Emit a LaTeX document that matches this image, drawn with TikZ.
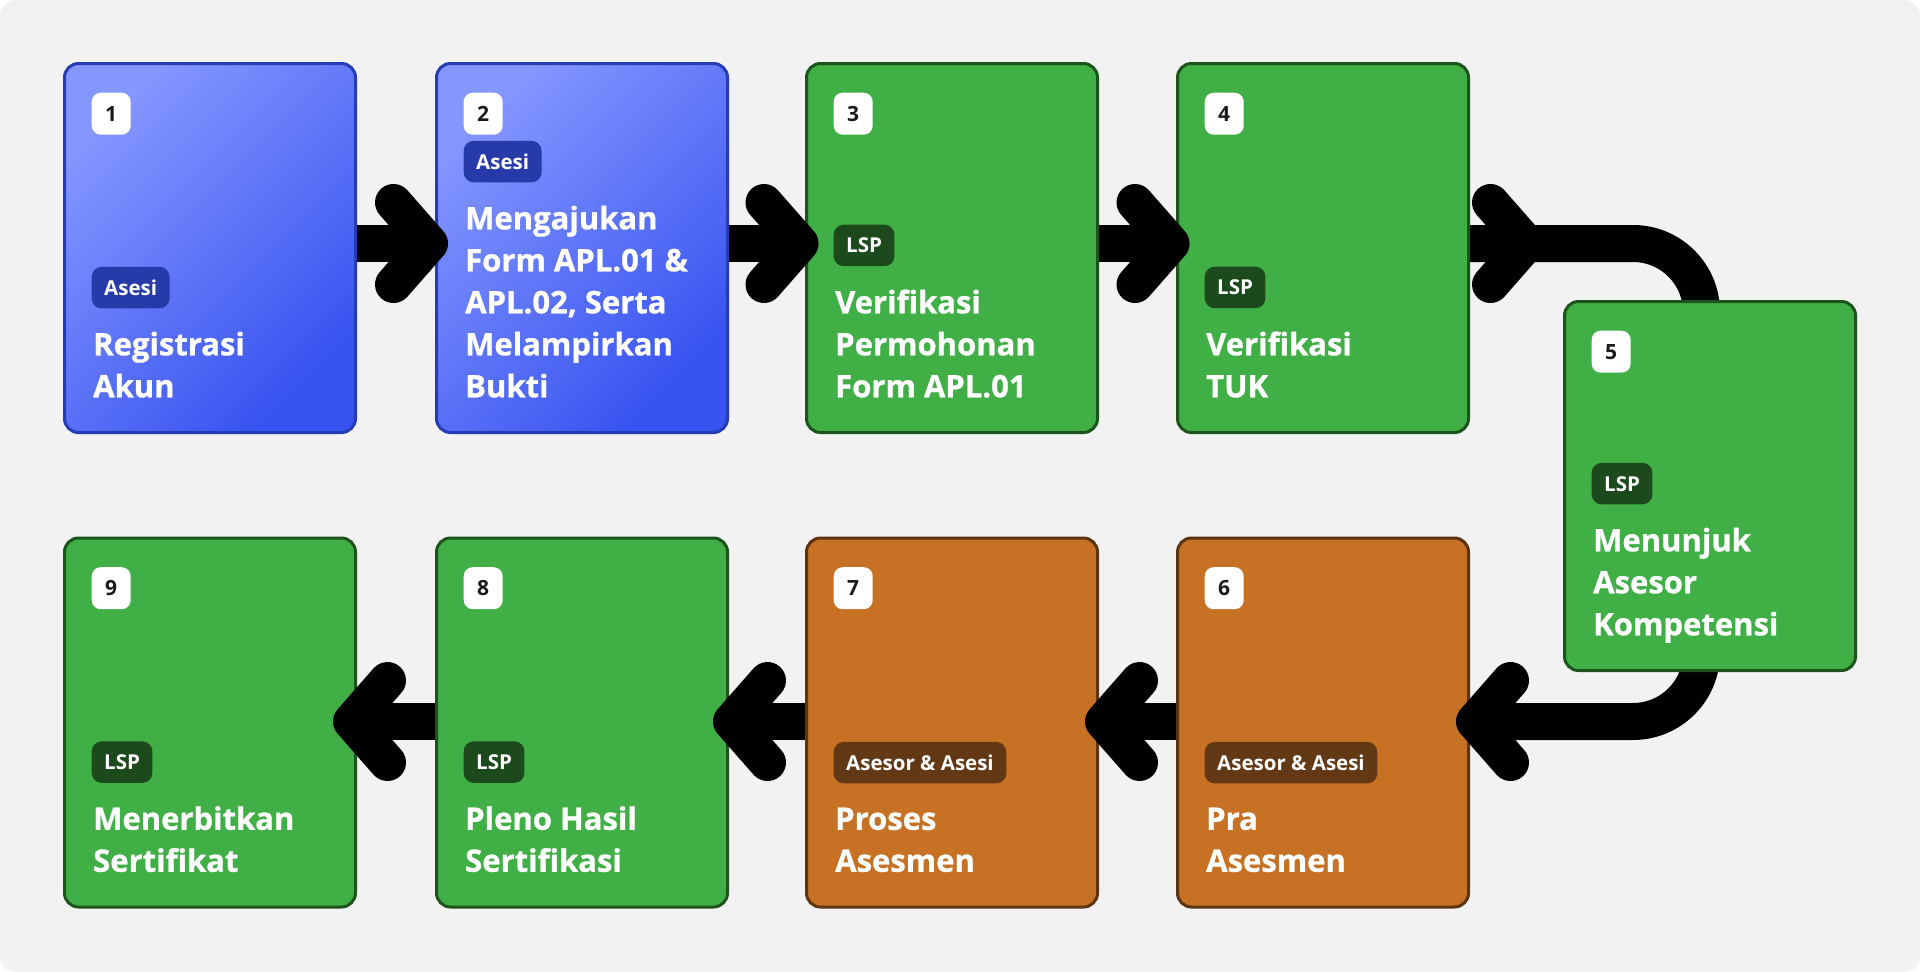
\documentclass[tikz,border=0pt]{standalone}
\usepackage{fontspec}
\setmainfont{Open Sans}
\newfontfamily\heavyfont{Open Sans}[BoldFeatures={FakeBold=0.9}]
\usetikzlibrary{calc,positioning}

\pgfdeclarelayer{back}
\pgfsetlayers{back,main}

\definecolor{pagebg}{HTML}{F2F2F2}
\definecolor{cardgreen}{RGB}{63,175,70}
\definecolor{linegreen}{RGB}{28,84,28}
\definecolor{taggreen}{RGB}{29,74,29}
\definecolor{cardorange}{RGB}{199,113,36}
\definecolor{lineorange}{RGB}{92,52,16}
\definecolor{tagorange}{RGB}{99,56,21}
\definecolor{bluelt}{RGB}{132,150,255}
\definecolor{bluedk}{RGB}{55,83,240}
\definecolor{lineblue}{RGB}{38,60,180}
\definecolor{tagblue}{RGB}{38,58,170}
\definecolor{numtext}{HTML}{1A1A1A}

% strut for the step titles
\newcommand{\ts}{\rule[-9pt]{0pt}{32pt}}

\tikzset{
  stepcard/.style={rectangle, rounded corners=14pt, line width=3pt, minimum width=291pt, minimum height=369pt, inner sep=0pt},
  greencard/.style={stepcard, fill=cardgreen, draw=linegreen},
  orangecard/.style={stepcard, fill=cardorange, draw=lineorange},
  bluecard/.style={stepcard, left color=bluelt, right color=bluedk, shading angle=45, draw=lineblue},
  numtag/.style={anchor=north west, fill=white, rounded corners=9pt, minimum width=39pt, minimum height=42pt, inner sep=0pt, text=numtext, font=\bfseries\fontsize{21}{24}\selectfont, text height=15pt, text depth=0pt},
  roletag/.style={anchor=south west, rounded corners=10pt, inner xsep=12.5pt, inner ysep=13.25pt, text height=15pt, text depth=0pt, text=white, font=\bfseries\fontsize{20.5}{24}\selectfont},
  steptitle/.style={anchor=south west, align=left, inner sep=0pt, text=white, font=\heavyfont\bfseries\fontsize{31}{42}\selectfont},
  band/.style={line width=37pt},
  chev/.style={line width=37pt, line cap=round, line join=round}
}

\begin{document}
\begin{tikzpicture}[x=1pt, y=-1pt]
\useasboundingbox (0,0) rectangle (1920,972);

% arrow heads
\coordinate (h12) at (429.5,243.5);
\coordinate (h23) at (800,243.5);
\coordinate (h34) at (1171,243.5);
\coordinate (h45) at (1526.5,243.5);
\coordinate (h56) at (1474.5,721.5);
\coordinate (h67) at (1103.5,721.5);
\coordinate (h78) at (731.5,721.5);
\coordinate (h89) at (351.5,721.5);

% row 1
\node[bluecard] (s1) at (210,248) {};
\node[numtag] (n1) at ($(s1.north west)+(28.5,30.5)$) {1};
\node[steptitle] (t1) at ($(s1.south west)+(30,-27.5)$) {\ts Registrasi\\Akun\ts};
\node[roletag, fill=tagblue] (w1) at ($(t1.north west)+(-1.5,-23)$) {Asesi};

\node[bluecard] (s2) at (582,248) {};
\node[numtag] (n2) at ($(s2.north west)+(28.5,30.5)$) {2};
\node[steptitle] (t2) at ($(s2.south west)+(30,-27.5)$) {\ts Mengajukan\\Form APL.01 \&\\APL.02, Serta\\Melampirkan\\Bukti\ts};
\node[roletag, fill=tagblue] (w2) at ($(t2.north west)+(-1.5,-23)$) {Asesi};

\node[greencard] (s3) at (952,248) {};
\node[numtag] (n3) at ($(s3.north west)+(28.5,30.5)$) {3};
\node[steptitle] (t3) at ($(s3.south west)+(30,-27.5)$) {\ts Verifikasi\\Permohonan\\Form APL.01\ts};
\node[roletag, fill=taggreen] (w3) at ($(t3.north west)+(-1.5,-23)$) {LSP};

\node[greencard] (s4) at (1323,248) {};
\node[numtag] (n4) at ($(s4.north west)+(28.5,30.5)$) {4};
\node[steptitle] (t4) at ($(s4.south west)+(30,-27.5)$) {\ts Verifikasi\\TUK\ts};
\node[roletag, fill=taggreen] (w4) at ($(t4.north west)+(-1.5,-23)$) {LSP};

% turn
\node[greencard] (s5) at (1710,486) {};
\node[numtag] (n5) at ($(s5.north west)+(28.5,30.5)$) {5};
\node[steptitle] (t5) at ($(s5.south west)+(30,-27.5)$) {\ts Menunjuk\\Asesor\\Kompetensi\ts};
\node[roletag, fill=taggreen] (w5) at ($(t5.north west)+(-1.5,-23)$) {LSP};

% row 2
\node[orangecard] (s6) at (1323,722.5) {};
\node[numtag] (n6) at ($(s6.north west)+(28.5,30.5)$) {6};
\node[steptitle] (t6) at ($(s6.south west)+(30,-27.5)$) {\ts Pra\\Asesmen\ts};
\node[roletag, fill=tagorange] (w6) at ($(t6.north west)+(-1.5,-23)$) {Asesor \& Asesi};

\node[orangecard] (s7) at (952,722.5) {};
\node[numtag] (n7) at ($(s7.north west)+(28.5,30.5)$) {7};
\node[steptitle] (t7) at ($(s7.south west)+(30,-27.5)$) {\ts Proses\\Asesmen\ts};
\node[roletag, fill=tagorange] (w7) at ($(t7.north west)+(-1.5,-23)$) {Asesor \& Asesi};

\node[greencard] (s8) at (582,722.5) {};
\node[numtag] (n8) at ($(s8.north west)+(28.5,30.5)$) {8};
\node[steptitle] (t8) at ($(s8.south west)+(30,-27.5)$) {\ts Pleno Hasil\\Sertifikasi\ts};
\node[roletag, fill=taggreen] (w8) at ($(t8.north west)+(-1.5,-23)$) {LSP};

\node[greencard] (s9) at (210,722.5) {};
\node[numtag] (n9) at ($(s9.north west)+(28.5,30.5)$) {9};
\node[steptitle] (t9) at ($(s9.south west)+(30,-27.5)$) {\ts Menerbitkan\\Sertifikat\ts};
\node[roletag, fill=taggreen] (w9) at ($(t9.north west)+(-1.5,-23)$) {LSP};

\begin{pgfonlayer}{back}
\fill[white] (0,0) rectangle (1920,972);
\fill[pagebg, rounded corners=16pt] (0,0) rectangle (1920,972);
\draw[band] (s1.east |- h12) -- (s2.west |- h12);
\draw[band] (s2.east |- h23) -- (s3.west |- h23);
\draw[band] (s3.east |- h34) -- (s4.west |- h34);
\draw[band, rounded corners=68.5pt] (s4.east |- h45) -| ($(s5.north)+(-8.5,30)$);
\draw[band, rounded corners=68.5pt] ($(s5.south)+(-8.5,-30)$) |- (s6.east |- h56);
\draw[band] (s6.west |- h67) -- (s7.east |- h67);
\draw[band] (s7.west |- h78) -- (s8.east |- h78);
\draw[band] (s8.west |- h89) -- (s9.east |- h89);
\end{pgfonlayer}

% chevrons
\draw[chev] ($(h12)+(-36,-41)$) -- (h12) -- ($(h12)+(-36,41)$);
\draw[chev] ($(h23)+(-36,-41)$) -- (h23) -- ($(h23)+(-36,41)$);
\draw[chev] ($(h34)+(-36,-41)$) -- (h34) -- ($(h34)+(-36,41)$);
\draw[chev] ($(h45)+(-36,-41)$) -- (h45) -- ($(h45)+(-36,41)$);
\draw[chev] ($(h56)+(36,-41)$) -- (h56) -- ($(h56)+(36,41)$);
\draw[chev] ($(h67)+(36,-41)$) -- (h67) -- ($(h67)+(36,41)$);
\draw[chev] ($(h78)+(36,-41)$) -- (h78) -- ($(h78)+(36,41)$);
\draw[chev] ($(h89)+(36,-41)$) -- (h89) -- ($(h89)+(36,41)$);
\end{tikzpicture}
\end{document}
